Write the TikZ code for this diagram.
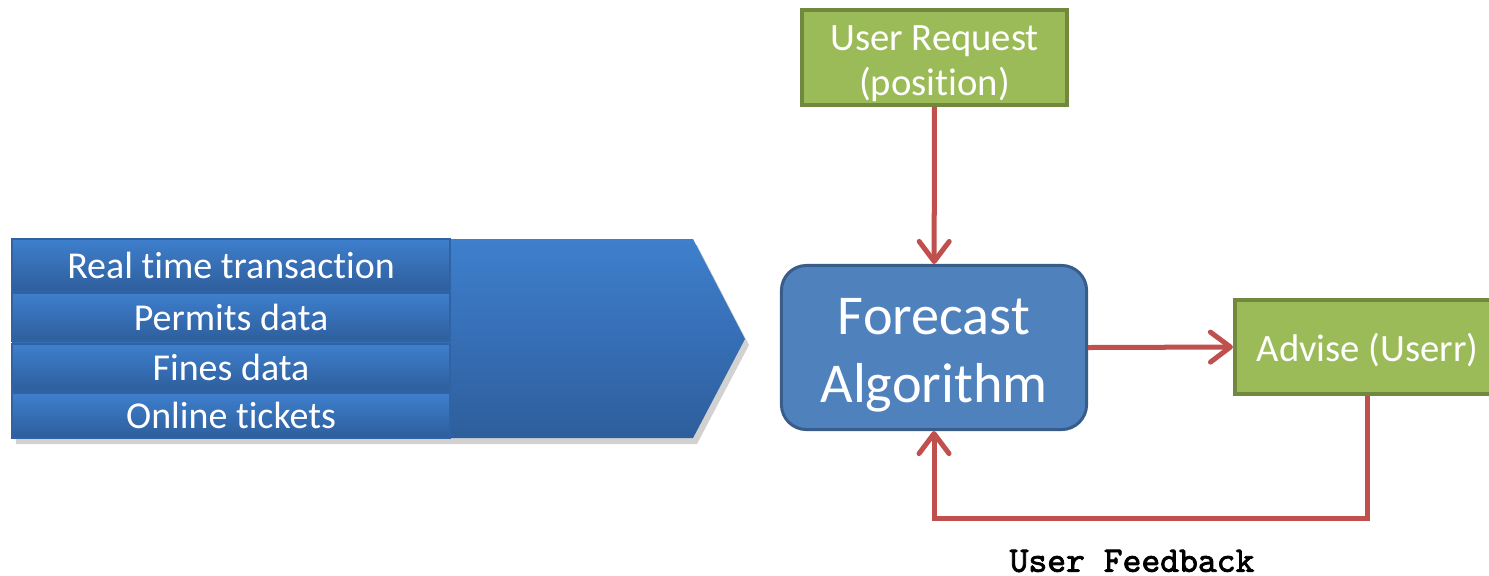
\documentclass[tikz,border=0pt]{standalone}
\usepackage{fontspec}
\setmainfont{Carlito}[Ligatures=NoCommon]
\newfontfamily\codefont{Latin Modern Mono}[AutoFakeBold=2.2]
\usepackage{tikz}
\usetikzlibrary{arrows.meta}
\usetikzlibrary{calc}

\definecolor{barblue}{HTML}{3E7FCD}
\definecolor{bardark}{HTML}{2E5E9C}
\definecolor{boxblue}{HTML}{4F81BD}
\definecolor{boxedge}{HTML}{385D8A}
\definecolor{leaf}{HTML}{9BBB59}
\definecolor{leafedge}{HTML}{71893F}
\definecolor{wire}{HTML}{C0504D}
\newcommand{\lift}[1]{\rule{0pt}{#1}}

\begin{document}
\begin{tikzpicture}[x=0.01cm,y=-0.01cm,
    rowbox/.style={draw=bardark!85!barblue,line width=0.4pt,top color=barblue,bottom color=bardark,
      minimum width=4.38cm,inner sep=0pt,text=white,font=\fontsize{10.8}{13}\selectfont},
    greenbox/.style={draw=leafedge,line width=0.04cm,fill=leaf,text=white,align=center,
      minimum width=2.65cm,minimum height=0.94cm,inner sep=0pt,
      font=\fontsize{11}{12.6}\selectfont},
    flow/.style={draw=wire,line width=0.05cm,-{Straight Barb[length=0.2cm,width=0.3cm,round]}}]
    \useasboundingbox (0,0) rectangle (1489,575);
    % data input chevron
    \fill[black,opacity=0.18] (16,245) -- (697,245) -- (749,345) -- (697,444) -- (16,444) -- cycle;
    \shade[top color=barblue,bottom color=bardark] (12,239) -- (693,239) -- (745,339) -- (693,438) -- (12,438) -- cycle;
    \node[rowbox,minimum height=0.52cm] (r1) at (231,265) {Real time transaction};
    \node[rowbox,minimum height=0.48cm] (r2) at (231,317) {Permits data};
    \node[rowbox,minimum height=0.47cm] (r3) at (231,367.5) {Fines data};
    \node[rowbox,minimum height=0.45cm] (r4) at (231,415.5) {Online tickets};
    % boxes
    \node[greenbox] (req) at (934.5,57.5) {\lift{10.6pt}User Request\\(position)};
    \node[draw=boxedge,line width=0.03cm,fill=boxblue,rounded corners=0.25cm,text=white,align=center,
      minimum width=3.05cm,minimum height=1.64cm,inner sep=0pt,
      font=\fontsize{16}{19.2}\selectfont] (algo) at (934,347.5) {\lift{14.8pt}Forecast\\Algorithm};
    \node[greenbox] (adv) at (1367.5,347) {\lift{9.6pt}Advise (Userr)};
    \coordinate (back) at (1150,518);
    % connectors
    \draw[flow] (req) -- (algo);
    \draw[flow] (algo.east) -- (adv.west);
    \draw[flow] (adv.south) |- (back) -| (algo.south);
    \node[font=\codefont\bfseries\fontsize{10.2}{11}\selectfont] (fb) at (1132,561) {User Feedback};
  \end{tikzpicture}
\end{document}
